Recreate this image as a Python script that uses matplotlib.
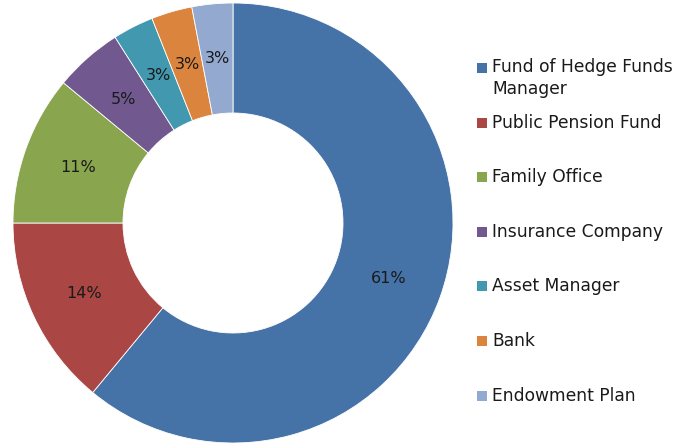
import matplotlib.pyplot as plt
from matplotlib.patches import Rectangle

# investor types and their share
labels = ["Fund of Hedge Funds\nManager", "Public Pension Fund", "Family Office",
          "Insurance Company", "Asset Manager", "Bank", "Endowment Plan"]
shares = [61, 14, 11, 5, 3, 3, 3]
colors = ["#4572A7", "#AA4643", "#89A54E", "#71588F", "#4198AF", "#DB843D", "#93A9CF"]

plt.rcParams['font.family'] = ['DejaVu Sans']

W, H = 694, 446
fig = plt.figure(figsize=(W / 100, H / 100), dpi=100)

# donut: centre (233, 223) px, outer radius 220 px
cx, cy, r = 233, 223, 220
ax = fig.add_axes([(cx - r) / W, (H - cy - r) / H, 2 * r / W, 2 * r / H])
wedges, texts = ax.pie(shares, colors=colors, startangle=90, counterclock=False,
                       radius=1.0, labels=[f"{v}%" for v in shares], labeldistance=0.75,
                       wedgeprops=dict(width=0.5, edgecolor="white", linewidth=0.6),
                       textprops=dict(fontsize=11.5, color="#1a1a1a"))
for t in texts:
    t.set_horizontalalignment("center")
    t.set_verticalalignment("center")
ax.set_xlim(-1, 1)
ax.set_ylim(-1, 1)
ax.set_aspect("equal")
ax.axis("off")

# legend on the right
y0, step = 68, 54.6
for i, (lab, col) in enumerate(zip(labels, colors)):
    y = y0 + i * step
    fig.patches.append(Rectangle((477 / W, (H - y - 5) / H), 10 / W, 10 / H,
                                 transform=fig.transFigure, facecolor=col, edgecolor="none"))
    if "\n" in lab:
        fig.text(492 / W, (H - y + 10) / H, lab, fontsize=12.3, color="#1a1a1a",
                 va="top", ha="left", linespacing=1.3)
    else:
        fig.text(492 / W, (H - y) / H, lab, fontsize=12.3, color="#1a1a1a",
                 va="center", ha="left")

fig.savefig("out.png", dpi=100)
